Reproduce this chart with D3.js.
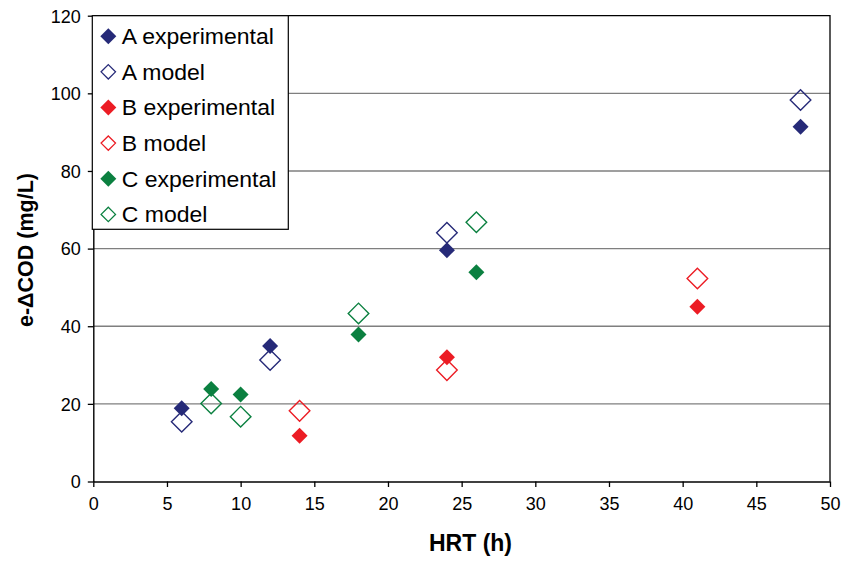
<!DOCTYPE html>
<html>
<head>
<meta charset="utf-8">
<script src="https://cdn.jsdelivr.net/npm/d3@7"></script>
<style>
  html, body { margin: 0; padding: 0; background: #fff; }
  svg { display: block; }
  text { font-family: "Liberation Sans", Arial, Helvetica, sans-serif; fill: #000; }
</style>
</head>
<body>
<svg id="chart" width="843" height="561"></svg>
<script>
// ---- data ----
const xTicks = [0, 5, 10, 15, 20, 25, 30, 35, 40, 45, 50];
const yTicks = [0, 20, 40, 60, 80, 100, 120];

const aExpHRT = [6, 12, 24, 48];
const aExpVal = [18.9, 34.9, 59.6, 91.4];
const aModHRT = [6, 12, 24, 48];
const aModVal = [15.4, 31.3, 64.1, 98.3];

const bExpHRT = [14, 24, 41];
const bExpVal = [11.8, 32.0, 45.0];
const bModHRT = [14, 24, 41];
const bModVal = [18.2, 28.7, 52.3];

const cExpHRT = [8, 10, 18, 26];
const cExpVal = [23.8, 22.4, 37.9, 53.9];
const cModHRT = [8, 10, 18, 26];
const cModVal = [20.1, 16.7, 43.3, 66.8];

const seriesNames = ["A experimental", "A model", "B experimental", "B model", "C experimental", "C model"];
const seriesColors = ["#262a78", "#262a78", "#ec1c24", "#ec1c24", "#0b8040", "#0b8040"];
const seriesFilled = [true, false, true, false, true, false];
const seriesHRT = [aExpHRT, aModHRT, bExpHRT, bModHRT, cExpHRT, cModHRT];
const seriesVal = [aExpVal, aModVal, bExpVal, bModVal, cExpVal, cModVal];

// ---- layout ----
const svg = d3.select("#chart");
const L = 93.3, R = 830, T = 15.7, B = 481.5;

const x = d3.scaleLinear().domain([0, 50]).range([L, R]);
const y = d3.scaleLinear().domain([0, 120]).range([B, T]);

// gridlines
svg.append("g")
  .selectAll("line")
  .data(yTicks.filter(d => d > 0 && d < 120))
  .join("line")
  .attr("x1", L).attr("x2", R)
  .attr("y1", d => y(d)).attr("y2", d => y(d))
  .attr("stroke", "#7f7f7f").attr("stroke-width", 1.4);

// plot border (top and right)
svg.append("path")
  .attr("d", `M${L},${T}H${R}V${B}`)
  .attr("fill", "none").attr("stroke", "#000").attr("stroke-width", 1.3);

// axes
const xAxis = svg.append("g")
  .attr("transform", `translate(0,${B})`)
  .call(d3.axisBottom(x).tickValues(xTicks).tickSize(5.5).tickPadding(10).tickSizeOuter(0));
const yAxis = svg.append("g")
  .attr("transform", `translate(${L},0)`)
  .call(d3.axisLeft(y).tickValues(yTicks).tickSize(5.5).tickPadding(7).tickSizeOuter(0));

[xAxis, yAxis].forEach(g => {
  g.select(".domain").attr("stroke", "#000").attr("stroke-width", 1.4);
  g.selectAll(".tick line").attr("stroke", "#000").attr("stroke-width", 1.3);
  g.selectAll(".tick text")
    .attr("font-family", "'Liberation Sans', Arial, sans-serif")
    .attr("font-size", 18).attr("fill", "#000");
});
xAxis.selectAll(".tick text").attr("dy", "0.71em");
yAxis.selectAll(".tick text").attr("dy", "0.35em");

// axis titles
svg.append("text")
  .attr("x", x(25.6)).attr("y", 551)
  .attr("text-anchor", "middle")
  .attr("font-weight", "bold").attr("font-size", 23)
  .text("HRT (h)");
svg.append("text")
  .attr("transform", `translate(32.5,250) rotate(-90)`)
  .attr("text-anchor", "middle")
  .attr("font-weight", "bold").attr("font-size", 21.5)
  .text("e-\u0394COD (mg/L)");

// markers
function diamond(r) {
  return `M0,${-r}L${r},0L0,${r}L${-r},0Z`;
}

seriesNames.forEach((name, i) => {
  const pts = seriesHRT[i].map((h, j) => [h, seriesVal[i][j]]);
  const filled = seriesFilled[i];
  svg.append("g")
    .selectAll("path")
    .data(pts)
    .join("path")
    .attr("transform", d => `translate(${x(d[0])},${y(d[1])})`)
    .attr("d", filled ? diamond(8) : diamond(10.3))
    .attr("fill", filled ? seriesColors[i] : "none")
    .attr("stroke", filled ? "none" : seriesColors[i])
    .attr("stroke-width", 1.4);
});

// legend
const lg = svg.append("g");
lg.append("rect")
  .attr("x", 92.3).attr("y", 15.7)
  .attr("width", 196).attr("height", 213.6)
  .attr("fill", "#fff").attr("stroke", "#000").attr("stroke-width", 1.2);

const rowY = d3.scaleLinear().domain([0, 5]).range([36.2, 214.4]);
seriesNames.forEach((name, i) => {
  const g = lg.append("g").attr("transform", `translate(108.3,${rowY(i)})`);
  const filled = seriesFilled[i];
  g.append("path")
    .attr("d", filled ? diamond(8) : diamond(7.2))
    .attr("fill", filled ? seriesColors[i] : "none")
    .attr("stroke", filled ? "none" : seriesColors[i])
    .attr("stroke-width", 1.3);
  g.append("text")
    .attr("transform", "translate(13.5,0) scale(1.07,1)")
    .attr("dy", "0.36em")
    .attr("font-size", 21.5)
    .text(name);
});
</script>
</body>
</html>
